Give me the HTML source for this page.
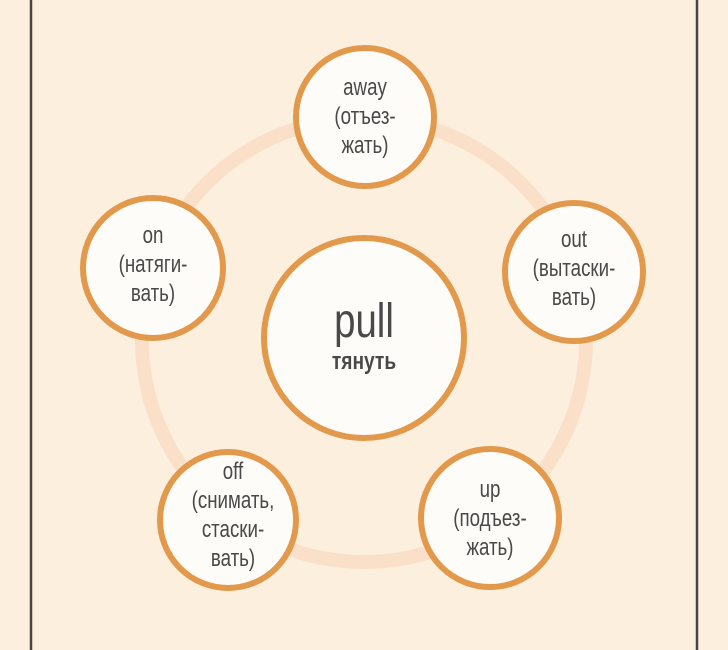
<!DOCTYPE html>
<html><head><meta charset="utf-8"><style>
html,body{margin:0;padding:0;width:728px;height:650px;overflow:hidden;background:#fdefdd;}
svg{display:block}
text{font-family:"Liberation Sans",sans-serif;fill:#4a4848;text-anchor:middle;}
</style></head><body>
<svg width="728" height="650" viewBox="0 0 728 650">
<rect width="728" height="650" fill="#fdefdd"/>
<line x1="31" y1="0" x2="31" y2="650" stroke="#4a4545" stroke-width="2.5"/>
<line x1="697" y1="0" x2="697" y2="650" stroke="#4a4545" stroke-width="2.5"/>
<circle cx="364" cy="340" r="222" fill="none" stroke="#fbe0c9" stroke-width="14"/>
<g fill="#fdfcf8" stroke="#e2994c" stroke-width="6">
<circle cx="364" cy="338" r="100"/>
<circle cx="365" cy="117" r="69"/>
<circle cx="574" cy="272" r="69"/>
<circle cx="490" cy="518" r="69"/>
<circle cx="228" cy="520" r="68"/>
<circle cx="153" cy="268" r="70"/>
</g>
<g transform="translate(364,0) scale(0.8,1) translate(-364,0)">
<text x="364" y="337" font-size="48">pull</text>
<text x="364" y="369" font-size="24" font-weight="bold">тянуть</text>
</g>
<g font-size="24">
<g transform="translate(365,0) scale(0.78,1) translate(-365,0)"><text x="365" y="95">away</text><text x="365" y="124">(отъез-</text><text x="365" y="153">жать)</text></g>
<g transform="translate(574,0) scale(0.78,1) translate(-574,0)"><text x="574" y="247">out</text><text x="574" y="276">(вытаски-</text><text x="574" y="305">вать)</text></g>
<g transform="translate(490,0) scale(0.78,1) translate(-490,0)"><text x="490" y="497">up</text><text x="490" y="526">(подъез-</text><text x="490" y="555">жать)</text></g>
<g transform="translate(233,0) scale(0.78,1) translate(-233,0)"><text x="233" y="479">off</text><text x="233" y="508">(снимать,</text><text x="233" y="537">стаски-</text><text x="233" y="566">вать)</text></g>
<g transform="translate(153,0) scale(0.78,1) translate(-153,0)"><text x="153" y="243">on</text><text x="153" y="272">(натяги-</text><text x="153" y="301">вать)</text></g>
</g>
</svg>
</body></html>
